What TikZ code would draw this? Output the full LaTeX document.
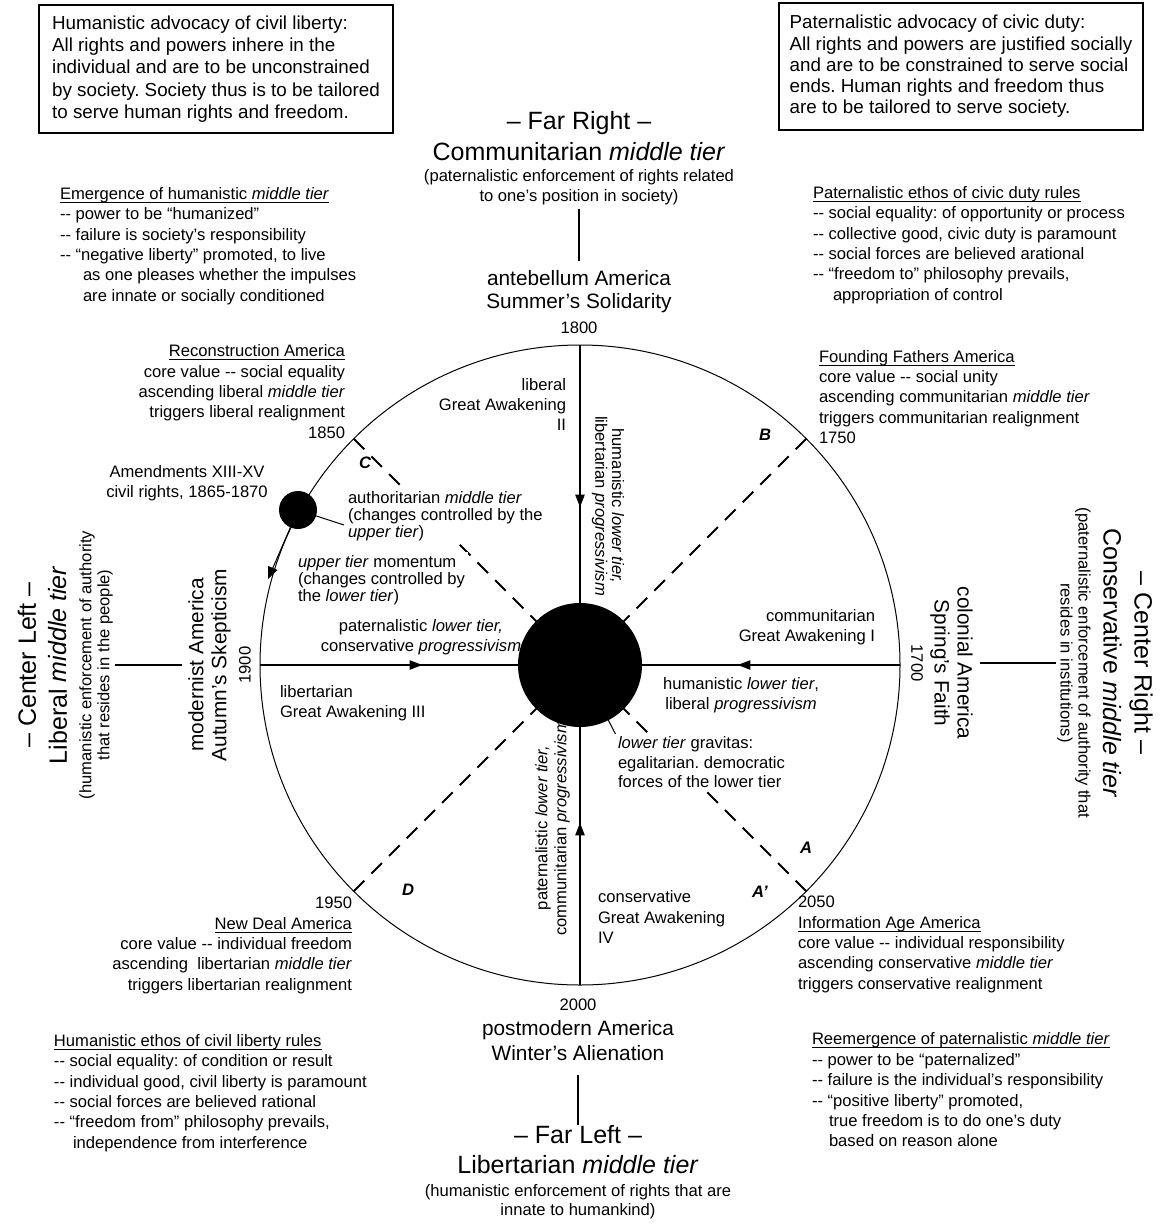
\documentclass[tikz,border=0pt]{standalone}
\usepackage{fontspec}
\setmainfont{Liberation Sans}
\usetikzlibrary{arrows.meta,decorations.markings}
\newcommand{\dbl}{\mbox{-}\mbox{-}}
\newcommand{\uhead}[1]{\underline{\raisebox{0pt}[\height][0pt]{#1}}}
\def \globalscale {0.500000}
\frenchspacing

\begin{document}
\begin{tikzpicture}[y=1pt, x=1pt, yscale=-\globalscale, xscale=\globalscale, inner sep=0pt, outer sep=0pt,
  bodytext/.style={font=\fontsize{8.3}{10.2}\selectfont},
  tighttext/.style={font=\fontsize{8.3}{8.4}\selectfont},
  eratext/.style={font=\fontsize{10.4}{11.5}\selectfont, align=center},
  titletext/.style={font=\fontsize{12.5}{15.5}\selectfont, align=center},
  advbox/.style={draw=black, line width=1pt, align=left, anchor=north west},
  quadletter/.style={font=\fontsize{8.3}{10}\selectfont\bfseries\itshape},
  disk/.style={circle, fill=black},
  spoke/.style={line width=1.25pt, postaction={decorate}, decoration={markings, mark=at position 0.63 with {\arrow{Triangle[length=6.5pt,width=4.5pt]}}}},
  tierline/.style={line width=1.25pt},
  cycleline/.style={line width=1pt, dash pattern=on 7.5pt off 5pt},
  pointer/.style={line width=0.5pt},
  blank/.style={fill=white, inner sep=1.5pt}]
\useasboundingbox (0,0) rectangle (1161,1225);



\node[disk, minimum size=62pt] (core) at (580,665) {};



\node[disk, minimum size=19pt] (amend) at (298,510) {};



\coordinate (rimN) at (580,345);
\coordinate (rimE) at (900,665);
\coordinate (rimS) at (580,985);
\coordinate (rimW) at (260,665);
\coordinate (rimNW) at (353.7,438.7);
\coordinate (rimNE) at (806.3,438.7);
\coordinate (rimSW) at (353.7,891.3);
\coordinate (rimSE) at (806.3,891.3);
\coordinate (amendtip) at (268,579);
\coordinate (authtip) at (344,525);
\coordinate (gravtip) at (617,737);



\draw[line width=0.5pt] (core.center) circle (320);



\draw[spoke] (rimN) -- (core);
\draw[spoke] (rimE) -- (core);
\draw[spoke] (rimS) -- (core);
\draw[spoke] (rimW) -- (core);



\draw[cycleline] (rimNW) -- (core);
\draw[cycleline] (rimNE) -- (core);
\draw[cycleline] (rimSW) -- (core);
\draw[cycleline] (rimSE) -- (core);



\draw[pointer, -{Triangle[length=6pt,width=5pt]}] (amend) -- (amendtip);
\draw[pointer] (amend) -- (authtip);
\draw[pointer] (core) -- (gravtip);



\node[advbox, font=\fontsize{9.4}{11.2}\selectfont, minimum width=177pt, minimum height=64pt] (libertybox) at (39,5) {Humanistic advocacy of civil liberty:\\All rights and powers inhere in the\\individual and are to be unconstrained\\by society. Society thus is to be tailored\\to serve human rights and freedom.};



\node[advbox, font=\fontsize{9.4}{10.6}\selectfont, minimum width=182pt, minimum height=63.5pt] (dutybox) at (779,3) {Paternalistic advocacy of civic duty:\\All rights and powers are justified socially\\and are to be constrained to serve social\\ends. Human rights and freedom thus\\are to be tailored to serve society.};



\node[titletext] (farright) at (579,136) {– Far Right –\\Communitarian \textit{middle tier}};
\node[bodytext, align=center] (farrightnote) at (579,187) {(paternalistic enforcement of rights related\\to one’s position in society)};
\node[eratext] (antebellum) at (579,291.5) {antebellum America\\Summer’s Solidarity};
\node[bodytext] (yr1800) at (579,328) {1800};
\draw[tierline, shorten <=2pt, shorten >=4.5pt] (farrightnote) -- (antebellum);



\node[bodytext] (yr2000) at (578,1005) {2000};
\node[eratext, font=\fontsize{10.4}{12.5}\selectfont] (postmodern) at (578,1040.5) {postmodern America\\Winter’s Alienation};
\node[titletext, font=\fontsize{12.5}{15}\selectfont] (farleft) at (578,1150) {– Far Left –\\Libertarian \textit{middle tier}};
\node[bodytext, align=center, font=\fontsize{8.3}{9.5}\selectfont] (farleftnote) at (578,1201.5) {(humanistic enforcement of rights that are\\innate to humankind)};
\draw[tierline, shorten <=7pt, shorten >=0.5pt] (postmodern) -- (farleft);



\node[titletext, rotate=90] (centerleft) at (42.5,665) {– Center Left –\\Liberal \textit{middle tier}};
\node[bodytext, align=center, rotate=90, font=\fontsize{8.3}{9}\selectfont] (centerleftnote) at (96,665) {(humanistic enforcement of authority\\that resides in the people)};
\node[eratext, rotate=90] (modernist) at (209.5,665) {modernist America\\Autumn’s Skepticism};
\node[bodytext, rotate=90] (yr1900) at (245,665) {1900};
\draw[tierline, shorten <=1pt, shorten >=3pt] (centerleftnote) -- (modernist);



\node[titletext, rotate=-90] (centerright) at (1128,663) {– Center Right –\\Conservative \textit{middle tier}};
\node[bodytext, align=center, rotate=-90, font=\fontsize{8.3}{9}\selectfont] (centerrightnote) at (1074,663) {(paternalistic enforcement of authority that\\resides in institutions)};
\node[eratext, rotate=-90] (colonial) at (951.5,663) {colonial America\\Spring’s Faith};
\node[bodytext, rotate=-90] (yr1700) at (917,663) {1700};
\draw[tierline, shorten <=0.5pt, shorten >=3.5pt] (centerrightnote) -- (colonial);



\node[bodytext, align=left, anchor=west] (emergence) at (60,246) {\uhead{Emergence of humanistic \textit{middle tier}}\\\dbl{} power to be “humanized”\\\dbl{} failure is society’s responsibility\\\dbl{} “negative liberty” promoted, to live\\\hspace*{11.5pt}as one pleases whether the impulses\\\hspace*{11.5pt}are innate or socially conditioned};



\node[bodytext, align=left, anchor=west] (civicethos) at (813,245) {\uhead{Paternalistic ethos of civic duty rules}\\\dbl{} social equality: of opportunity or process\\\dbl{} collective good, civic duty is paramount\\\dbl{} social forces are believed arational\\\dbl{} “freedom to” philosophy prevails,\\\hspace*{10pt}appropriation of control};



\node[bodytext, align=right, anchor=east] (reconstruction) at (345,391.5) {\uhead{Reconstruction America}\\core value \dbl{} social equality\\ascending liberal \textit{middle tier}\\triggers liberal realignment\\1850};



\node[bodytext, align=left, anchor=west] (founding) at (819,397) {\uhead{Founding Fathers America}\\core value \dbl{} social unity\\ascending communitarian \textit{middle tier}\\triggers communitarian realignment\\1750};



\node[bodytext, align=center] (amendments) at (187,483) {Amendments XIII-XV\\civil rights, 1865-1870};



\node[bodytext, align=right, anchor=east] (awakening2) at (566,404.5) {liberal\\Great Awakening\\II};



\node[tighttext, align=center, rotate=-90] (toplower) at (608,506) {humanistic \textit{lower tier,}\\libertarian \textit{progressivism}};



\node[quadletter] (labelB) at (765,435) {B};
\node[quadletter] (labelC) at (365,463) {C};
\node[quadletter] (labelD) at (408,890) {D};
\node[quadletter] (labelA) at (806,848) {A};
\node[quadletter] (labelAp) at (760,892) {A’};



\node[tighttext, blank, align=left, anchor=west] (authoritarian) at (345,516.5) {authoritarian \textit{middle tier}\\(changes controlled by the\\\textit{upper tier})};



\node[tighttext, blank, align=left, anchor=west] (momentum) at (295,580) {\textit{upper tier} momentum\\(changes controlled by\\the \textit{lower tier})};



\node[bodytext, align=center] (conservprog) at (421,637) {paternalistic \textit{lower tier,}\\conservative \textit{progressivism}};



\node[bodytext, align=left, anchor=west] (awakening3) at (280,703) {libertarian\\Great Awakening III};



\node[bodytext, align=right, anchor=east] (awakening1) at (875,627.5) {communitarian\\Great Awakening I};



\node[bodytext, align=center] (liberalprog) at (741,695) {humanistic \textit{lower tier},\\liberal \textit{progressivism}};



\node[bodytext, blank, align=left, anchor=west, font=\fontsize{8.3}{9.75}\selectfont] (gravitas) at (615,762.5) {\textit{lower tier} gravitas:\\egalitarian. democratic\\forces of the lower tier};



\node[bodytext, align=left, anchor=west] (awakening4) at (598,917) {conservative\\Great Awakening\\IV};



\node[bodytext, align=center, rotate=90, font=\fontsize{8.3}{9.5}\selectfont] (bottomlower) at (552.5,828) {paternalistic \textit{lower tier,}\\communitarian \textit{progressivism}};



\node[bodytext, align=right, anchor=east] (newdeal) at (352,945.5) {1950\\\uhead{New Deal America}\\core value \dbl{} individual freedom\\ascending\ \ libertarian \textit{middle tier}\\triggers libertarian realignment};



\node[bodytext, align=left, anchor=west] (libertyethos) at (54,1093) {\uhead{Humanistic ethos of civil liberty rules}\\\dbl{} social equality: of condition or result\\\dbl{} individual good, civil liberty is paramount\\\dbl{} social forces are believed rational\\\dbl{} “freedom from” philosophy prevails,\\\hspace*{9.5pt}independence from interference};



\node[bodytext, align=left, anchor=west] (infoage) at (798,944.5) {2050\\\uhead{Information Age America}\\core value \dbl{} individual responsibility\\ascending conservative \textit{middle tier}\\triggers conservative realignment};



\node[bodytext, align=left, anchor=west] (reemergence) at (812,1090) {\uhead{Reemergence of paternalistic \textit{middle tier}}\\\dbl{} power to be “paternalized”\\\dbl{} failure is the individual’s responsibility\\\dbl{} “positive liberty” promoted,\\\hspace*{8.5pt}true freedom is to do one’s duty\\\hspace*{8.5pt}based on reason alone};




\end{tikzpicture}
\end{document}
